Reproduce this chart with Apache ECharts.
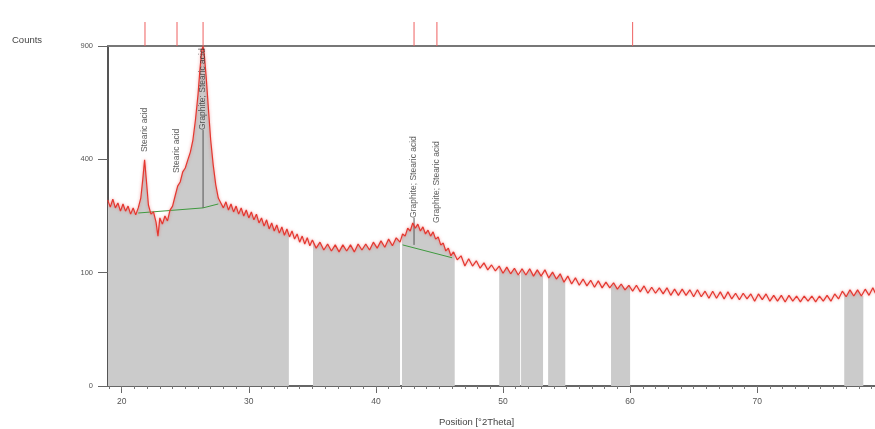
<!DOCTYPE html>
<html><head><meta charset="utf-8">
<script src="https://cdn.jsdelivr.net/npm/echarts@6/dist/echarts.min.js"></script>
<style>html,body{margin:0;padding:0;background:#fff}#c{width:875px;height:429px}</style>
</head><body><div id="c"></div>
<script>
// ---- data ----
const scanPositions = [18.9,19.1,19.3,19.5,19.7,19.9,20.1,20.3,20.5,20.7,20.9,21.1,21.3,21.5,21.65,21.8,21.95,22.1,22.3,22.5,22.7,22.85,23.0,23.2,23.4,23.6,23.8,24.0,24.2,24.4,24.6,24.8,25.0,25.2,25.4,25.6,25.8,26.0,26.15,26.3,26.4,26.5,26.65,26.8,27.0,27.2,27.4,27.6,27.8,28.0,
28.2,28.4,28.6,28.8,29.0,29.2,29.4,29.6,29.8,30.0,30.2,30.4,30.6,30.8,31.0,31.2,31.4,31.6,31.8,32.0,32.2,32.4,32.6,32.8,33.0,33.2,33.4,33.6,33.8,34.0,34.2,34.4,34.6,34.8,35.0,35.3,35.6,35.9,36.2,36.5,
36.8,37.1,37.4,37.7,38.0,38.3,38.6,38.9,39.2,39.5,39.8,40.1,40.4,40.7,41.0,41.3,41.6,41.9,42.1,42.3,42.5,42.7,42.9,43.1,43.3,43.5,43.7,43.9,44.1,44.3,44.5,44.7,44.9,45.1,45.3,45.5,45.7,45.9,46.1,46.4,
46.7,47.0,47.3,47.6,47.9,48.2,48.5,48.8,49.1,49.4,49.7,50.0,50.3,50.6,50.9,51.2,51.5,51.8,52.1,52.4,52.7,53.0,53.3,53.6,53.9,54.2,54.5,54.8,55.1,55.4,55.7,56.0,56.3,56.6,56.9,57.2,57.5,57.8,58.1,58.4,
58.7,59.0,59.3,59.6,59.9,60.2,60.5,60.8,61.1,61.4,61.7,62.0,62.3,62.6,62.9,63.2,63.5,63.8,64.1,64.4,64.7,65.0,65.3,65.6,65.9,66.2,66.5,66.8,67.1,67.4,67.7,68.0,68.3,68.6,68.9,69.2,69.5,69.8,70.1,70.4,
70.7,71.0,71.3,71.6,71.9,72.2,72.5,72.8,73.1,73.4,73.7,74.0,74.3,74.6,74.9,75.2,75.5,75.8,76.1,76.4,76.7,77.0,77.3,77.6,77.9,78.2,78.5,78.8,79.1,79.3];
const scanCounts = [269,249,272,247,261,238,258,238,252,230,247,228,247,275,330,398,324,255,230,236,209,175,220,204,225,212,241,252,281,311,324,357,370,398,426,471,551,659,777,879,898,853,739,615,471,380,315,275,261,247,
264,241,258,236,252,230,247,225,241,220,236,215,230,207,220,199,215,192,207,187,202,182,197,177,192,173,187,168,180,161,175,157,171,153,166,148,161,144,157,142,
155,140,155,142,155,140,157,144,157,144,161,148,164,150,168,153,171,161,180,175,194,187,207,194,204,187,197,180,189,175,185,168,173,155,159,142,148,132,140,124,
132,112,126,112,122,108,118,105,114,103,112,99,110,98,108,96,107,96,107,94,105,94,105,91,101,89,98,84,94,81,91,79,89,78,87,76,86,75,84,75,
83,73,81,72,79,70,79,69,78,67,76,67,75,66,75,64,73,64,73,64,72,62,72,62,70,60,70,60,69,59,69,59,67,58,67,59,66,56,66,58,
66,56,64,56,64,55,64,56,63,55,63,56,63,55,63,56,64,56,66,59,70,62,72,63,72,63,73,64,75,67];
// grey (fitted) regions, [start, end] in 2Theta
const fillRegions = [[18.92,33.15],[35.05,41.9],[42.05,46.2],[49.7,51.35],[51.42,53.15],[53.55,54.9],[58.5,60.0],[76.85,78.35]];
// background (green) segments: positions and counts
const bgPositions = [[21.3,26.4,27.6],[42.1,46.0]];
const bgCounts = [[233,247,258],[155,128]];
// reference pattern sticks (top strip)
const refSticks = [21.83,24.35,26.4,43.0,44.8,60.2];
// peak labels
const peakLabels = ['Stearic acid','Stearic acid','Graphite; Stearic acid','Graphite; Stearic acid','Graphite; Stearic acid'];
const peakPositions = [21.8,24.35,26.4,43.0,44.8];
const labelBaseCounts = [426,353,510,220,207];
// peak marker lines: position, top counts, bottom counts
const markerPositions = [26.4,43.0];
const markerTop = [510,220];
const markerBottom = [247,155];
const xTicks = [20,30,40,50,60,70];
const yTickCounts = [0,100,400,900];

// ---- build ----
const S = v => Math.sqrt(v);
const minorTicks = [];
for (let t = 19; t <= 79; t++) minorTicks.push(t);
const XMIN = 18.92, XMAX = 79.27;
const FONT = '"Liberation Sans", Arial, sans-serif';

function nearestCount(x) {
  let bi = 0;
  for (let i = 1; i < scanPositions.length; i++)
    if (Math.abs(scanPositions[i] - x) < Math.abs(scanPositions[bi] - x)) bi = i;
  return scanCounts[bi];
}
const scanData = scanPositions.map((x, i) => [x, S(scanCounts[i])]);
const bgData = [];
bgPositions.forEach((ps, k) => {
  ps.forEach((x, i) => bgData.push([x, S(bgCounts[k][i])]));
  bgData.push([ps[ps.length - 1], null]);
});
const markerData = [];
markerPositions.forEach((x, i) => {
  markerData.push([x, S(markerTop[i])], [x, S(markerBottom[i])], [x, null]);
});

function renderFill(params, api) {
  const [a, b] = fillRegions[params.dataIndex];
  const pts = [[a, 0], [a, S(nearestCount(a))]];
  scanPositions.forEach((x, i) => { if (x > a && x < b) pts.push([x, S(scanCounts[i])]); });
  pts.push([b, S(nearestCount(b))], [b, 0]);
  return {
    type: 'polygon',
    shape: { points: pts.map(p => api.coord(p)) },
    style: { fill: '#cbcbcb' }
  };
}

const chart = echarts.init(document.getElementById('c'));
chart.setOption({
  animation: false,
  backgroundColor: '#fff',
  grid: [
    { left: 108, right: 0, top: 46, bottom: 43 },
    { left: 108, right: 0, top: 22, height: 24 }
  ],
  xAxis: [
    { gridIndex: 0, type: 'value', min: XMIN, max: XMAX, position: 'bottom',
      axisLine: { show: true, onZero: false, lineStyle: { color: '#666', width: 2 } },
      axisTick: { show: true, customValues: xTicks, length: 7, lineStyle: { color: '#666', width: 1 } },
      axisLabel: { customValues: xTicks, fontSize: 8.5, color: '#555', margin: 11, fontFamily: FONT },
      splitLine: { show: false } },
    { gridIndex: 0, type: 'value', min: XMIN, max: XMAX, position: 'bottom',
      axisLine: { show: false },
      axisTick: { show: true, customValues: minorTicks, length: 3, lineStyle: { color: '#777', width: 1 } },
      axisLabel: { show: false }, splitLine: { show: false } },
    { gridIndex: 1, type: 'value', min: XMIN, max: XMAX, position: 'bottom',
      axisLine: { show: true, onZero: false, lineStyle: { color: '#777', width: 2 } },
      axisTick: { show: false }, axisLabel: { show: false }, splitLine: { show: false } }
  ],
  yAxis: [
    { gridIndex: 0, type: 'value', min: 0, max: 30, interval: 10,
      axisLine: { show: true, lineStyle: { color: '#555', width: 2 } },
      axisTick: { show: true, length: 10, lineStyle: { color: '#666' } },
      axisLabel: { formatter: v => String(yTickCounts.find(c => Math.abs(S(c) - v) < 1e-6) ?? v * v),
                   fontSize: 7.5, color: '#555', margin: 15, fontFamily: FONT },
      splitLine: { show: false } },
    { gridIndex: 1, type: 'value', min: 0, max: 1, show: false }
  ],
  series: [
    { type: 'custom', xAxisIndex: 0, yAxisIndex: 0, data: fillRegions, encode: { x: [0, 1] },
      renderItem: renderFill, z: 1, silent: true },
    { type: 'line', xAxisIndex: 0, yAxisIndex: 0, data: bgData, showSymbol: false, connectNulls: false,
      lineStyle: { width: 1, color: '#3f9a3f' }, z: 2, silent: true },
    { type: 'line', xAxisIndex: 0, yAxisIndex: 0, data: markerData, showSymbol: false, connectNulls: false,
      lineStyle: { width: 1, color: '#555' }, z: 3, silent: true },
    { type: 'line', xAxisIndex: 0, yAxisIndex: 0, data: scanData, showSymbol: false, sampling: 'none',
      lineStyle: { width: 1.2, color: '#e4372f', shadowBlur: 3, shadowColor: 'rgba(235,90,90,0.7)' }, z: 5, silent: true },
    { type: 'scatter', xAxisIndex: 0, yAxisIndex: 0, symbolSize: 0, z: 6, silent: true,
      data: peakPositions.map((x, i) => [x, S(labelBaseCounts[i])]),
      label: { show: true, formatter: p => peakLabels[p.dataIndex], rotate: 90, position: 'inside',
               align: 'left', verticalAlign: 'middle', fontSize: 8.5, color: '#333', fontFamily: FONT } },
    { type: 'bar', xAxisIndex: 2, yAxisIndex: 1, data: refSticks.map(x => [x, 1]), barWidth: 1,
      itemStyle: { color: '#ee6060' }, silent: true }
  ],
  graphic: [
    { type: 'text', left: 12, top: 35, style: { text: 'Counts', fontSize: 9.5, fill: '#444', fontFamily: FONT } },
    { type: 'text', left: 439, top: 417, style: { text: 'Position [°2Theta]', fontSize: 9.5, fill: '#444', fontFamily: FONT } }
  ]
});
</script>
</body></html>
